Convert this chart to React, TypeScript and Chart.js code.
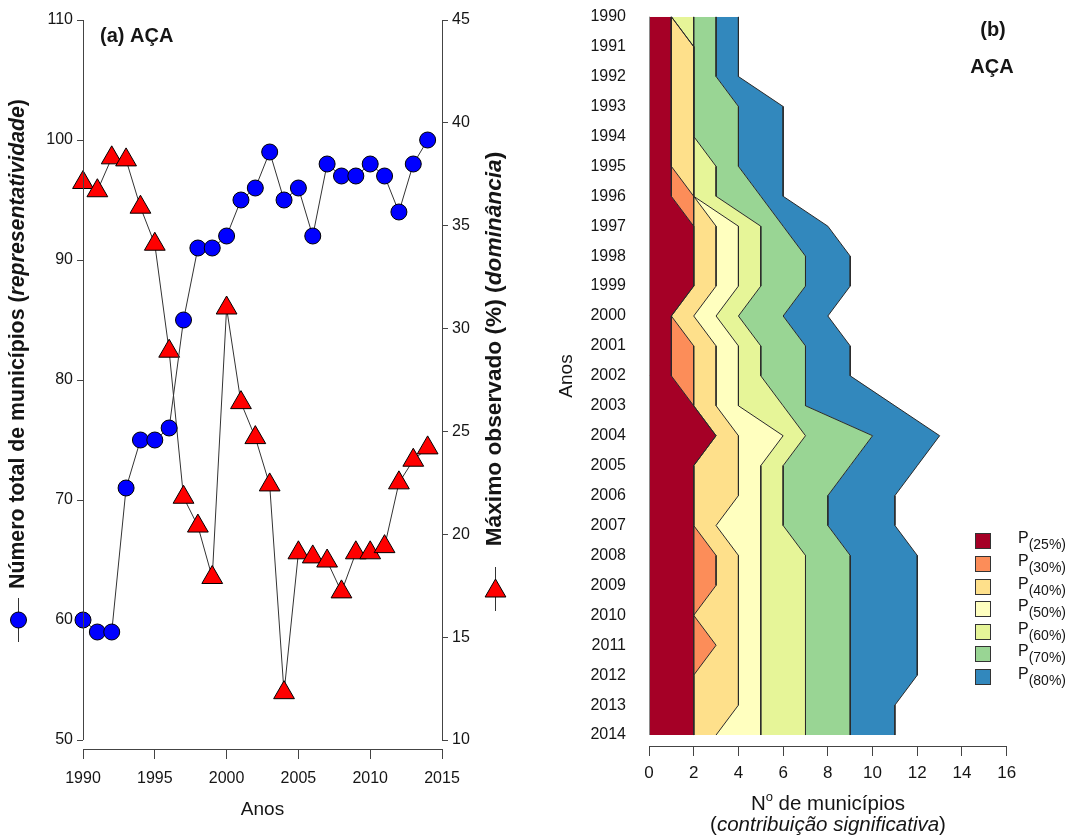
import React, { useEffect, useRef } from 'react';
import { Chart, registerables } from 'chart.js';

Chart.register(...registerables);

const FONT = "'Liberation Sans', Arial, Helvetica, sans-serif";
const TXT = '#151515';
const AXIS = '#444444';
const EDGE = '#2a2a2a';

// ---------- Panel (a) data ----------
const years = [
  1990, 1991, 1992, 1993, 1994, 1995, 1996, 1997, 1998, 1999, 2000, 2001, 2002,
  2003, 2004, 2005, 2006, 2007, 2008, 2009, 2010, 2011, 2012, 2013, 2014,
];
const municipiosTotal = [
  60, 59, 59, 71, 75, 75, 76, 85, 91, 91, 92, 95, 96, 99, 95, 96, 92, 98, 97, 97, 98, 97, 94, 98, 100,
];
const maximoObservado = [
  37.1, 36.7, 38.3, 38.2, 35.9, 34.1, 28.9, 21.8, 20.4, 17.9, 31.0, 26.4, 24.7, 22.4, 12.3, 19.1, 18.9,
  18.7, 17.2, 19.1, 19.1, 19.4, 22.5, 23.6, 24.2,
];
const leftTicks = [50, 60, 70, 80, 90, 100, 110];
const rightTicks = [10, 15, 20, 25, 30, 35, 40, 45];
const yearTicksA = [1990, 1995, 2000, 2005, 2010, 2015];

// ---------- Panel (b) data (municipalities per percentile class) ----------
const p25 = [1, 1, 1, 1, 1, 1, 1, 2, 2, 2, 1, 1, 1, 2, 3, 2, 2, 2, 2, 2, 2, 2, 2, 2, 2];
const p30 = [0, 0, 0, 0, 0, 0, 1, 0, 0, 0, 0, 1, 1, 0, 0, 0, 0, 0, 1, 1, 0, 1, 0, 0, 0];
const p40 = [0, 1, 1, 1, 1, 1, 0, 1, 1, 1, 1, 1, 1, 1, 1, 2, 2, 1, 1, 1, 2, 1, 2, 2, 1];
const p50 = [0, 0, 0, 0, 0, 0, 0, 1, 1, 1, 1, 1, 1, 1, 2, 1, 1, 2, 1, 1, 1, 1, 1, 1, 2];
const p60 = [1, 0, 0, 0, 0, 1, 1, 1, 1, 1, 1, 1, 1, 2, 1, 1, 1, 1, 2, 2, 2, 2, 2, 2, 2];
const p70 = [1, 1, 1, 2, 2, 1, 2, 1, 2, 2, 2, 2, 2, 1, 3, 3, 2, 2, 2, 2, 2, 2, 2, 2, 2];
const p80 = [1, 1, 1, 2, 2, 2, 1, 2, 2, 2, 2, 2, 2, 4, 3, 3, 3, 3, 3, 3, 3, 3, 3, 2, 2];
const classLabels = ['(25%)', '(30%)', '(40%)', '(50%)', '(60%)', '(70%)', '(80%)'];
const classColors = ['#a50026', '#fc8d59', '#fee08b', '#ffffbf', '#e6f598', '#99d594', '#3288bd'];
const classValues = [p25, p30, p40, p50, p60, p70, p80];
const countTicks = [0, 2, 4, 6, 8, 10, 12, 14, 16];

type Part = { text: string; font: string; dy?: number };

function drawRich(ctx: CanvasRenderingContext2D, parts: Part[], cx: number, cy: number, angle: number) {
  ctx.save();
  ctx.translate(cx, cy);
  ctx.rotate(angle);
  let total = 0;
  for (const p of parts) {
    ctx.font = p.font;
    total += ctx.measureText(p.text).width;
  }
  let x = -total / 2;
  ctx.textBaseline = 'middle';
  ctx.textAlign = 'left';
  ctx.fillStyle = TXT;
  for (const p of parts) {
    ctx.font = p.font;
    ctx.fillText(p.text, x, p.dy || 0);
    x += ctx.measureText(p.text).width;
  }
  ctx.restore();
}

const panelAPlugin = {
  id: 'panelADecor',
  afterDraw(chart: any) {
    const ctx: CanvasRenderingContext2D = chart.ctx;
    const { left, right } = chart.chartArea;
    const y = chart.scales.y;
    const y2 = chart.scales.y2;
    ctx.save();
    ctx.strokeStyle = AXIS;
    ctx.lineWidth = 1;
    ctx.beginPath();
    const lx = Math.round(left) + 0.5;
    ctx.moveTo(lx, y.getPixelForValue(110));
    ctx.lineTo(lx, y.getPixelForValue(50));
    const rx = Math.round(right) + 0.5;
    ctx.moveTo(rx, y2.getPixelForValue(45));
    ctx.lineTo(rx, y2.getPixelForValue(10));
    ctx.stroke();

    // panel title
    ctx.fillStyle = TXT;
    ctx.font = `bold 20px ${FONT}`;
    ctx.textBaseline = 'middle';
    ctx.textAlign = 'left';
    ctx.fillText('(a) AÇA', 100, 36);

    // x title
    ctx.font = `19px ${FONT}`;
    ctx.textAlign = 'center';
    ctx.fillText('Anos', (left + right) / 2, 810);

    // left axis title
    drawRich(
      ctx,
      [
        { text: 'Número total de municípios (', font: `bold 21.3px ${FONT}` },
        { text: 'representatividade', font: `italic bold 21.3px ${FONT}` },
        { text: ')', font: `bold 21.3px ${FONT}` },
      ],
      18,
      344,
      -Math.PI / 2
    );
    // right axis title
    drawRich(
      ctx,
      [
        { text: 'Máximo observado (%) (', font: `bold 22.7px ${FONT}` },
        { text: 'dominância', font: `italic bold 22.7px ${FONT}` },
        { text: ')', font: `bold 22.7px ${FONT}` },
      ],
      495,
      349,
      -Math.PI / 2
    );

    // legend symbols
    ctx.strokeStyle = '#333';
    ctx.beginPath();
    ctx.moveTo(18.5, 598);
    ctx.lineTo(18.5, 642);
    ctx.moveTo(495.5, 567);
    ctx.lineTo(495.5, 611);
    ctx.stroke();
    ctx.beginPath();
    ctx.arc(18.5, 620, 8, 0, Math.PI * 2);
    ctx.fillStyle = '#0000ff';
    ctx.fill();
    ctx.strokeStyle = '#000';
    ctx.stroke();
    const r = 12;
    const tx = 495.5;
    const ty = 591;
    ctx.beginPath();
    ctx.moveTo(tx, ty - r);
    ctx.lineTo(tx + r * Math.sin((2 * Math.PI) / 3), ty + r / 2);
    ctx.lineTo(tx - r * Math.sin((2 * Math.PI) / 3), ty + r / 2);
    ctx.closePath();
    ctx.fillStyle = '#ff0000';
    ctx.fill();
    ctx.stroke();
    ctx.restore();
  },
};

const panelBPlugin = {
  id: 'panelBDecor',
  afterDraw(chart: any) {
    const ctx: CanvasRenderingContext2D = chart.ctx;
    const x = chart.scales.x;
    const y = chart.scales.y;
    ctx.save();
    // left edge of the stacked area
    ctx.strokeStyle = '#8a8a8a';
    ctx.lineWidth = 1;
    ctx.beginPath();
    const x0 = Math.round(x.getPixelForValue(0)) + 0.5;
    ctx.moveTo(x0, y.getPixelForValue(1990));
    ctx.lineTo(x0, y.getPixelForValue(2014));
    ctx.stroke();

    ctx.fillStyle = TXT;
    ctx.textAlign = 'center';
    ctx.textBaseline = 'middle';
    ctx.font = `bold 20px ${FONT}`;
    ctx.fillText('(b)', 453, 30);
    ctx.fillText('AÇA', 452, 67);

    // axis titles
    drawRich(ctx, [{ text: 'Anos', font: `19px ${FONT}` }], 27, 376, -Math.PI / 2);
    drawRich(
      ctx,
      [
        { text: 'N', font: `20.5px ${FONT}` },
        { text: 'o', font: `13px ${FONT}`, dy: -7 },
        { text: ' de municípios', font: `20.5px ${FONT}` },
      ],
      288,
      804,
      0
    );
    drawRich(
      ctx,
      [
        { text: '(', font: `20.5px ${FONT}` },
        { text: 'contribuição significativa', font: `italic 20.5px ${FONT}` },
        { text: ')', font: `20.5px ${FONT}` },
      ],
      288,
      825,
      0
    );

    // legend
    const rows = [541, 564, 587, 609, 632, 654, 677];
    for (let i = 0; i < classLabels.length; i++) {
      const cy = rows[i];
      ctx.fillStyle = classColors[i];
      ctx.fillRect(435.5, cy - 7.5, 15, 15);
      ctx.strokeStyle = '#333';
      ctx.lineWidth = 1;
      ctx.strokeRect(435.5, cy - 7.5, 15, 15);
      ctx.fillStyle = TXT;
      ctx.textAlign = 'left';
      ctx.font = `16px ${FONT}`;
      ctx.fillText('P', 478, cy - 2);
      const pw = ctx.measureText('P').width;
      ctx.font = `14px ${FONT}`;
      ctx.fillText(classLabels[i], 478 + pw, cy + 4);
    }
    ctx.restore();
  },
};

export default function App() {
  const aRef = useRef<HTMLCanvasElement>(null);
  const bRef = useRef<HTMLCanvasElement>(null);

  useEffect(() => {
    Chart.defaults.font.family = FONT;
    Chart.defaults.color = TXT;

    const chartA = new Chart(aRef.current as HTMLCanvasElement, {
      type: 'line',
      data: {
        datasets: [
          {
            label: 'Número total de municípios',
            data: years.map((yr, i) => ({ x: yr, y: municipiosTotal[i] })),
            xAxisID: 'x',
            yAxisID: 'y',
            borderColor: '#333',
            borderWidth: 1,
            pointStyle: 'circle',
            pointRadius: 8,
            pointBackgroundColor: '#0000ff',
            pointBorderColor: '#000',
            pointBorderWidth: 1,
            tension: 0,
            clip: false as any,
          },
          {
            label: 'Máximo observado (%)',
            data: years.map((yr, i) => ({ x: yr, y: maximoObservado[i] })),
            xAxisID: 'x',
            yAxisID: 'y2',
            borderColor: '#333',
            borderWidth: 1,
            pointStyle: 'triangle',
            pointRadius: 12,
            pointBackgroundColor: '#ff0000',
            pointBorderColor: '#000',
            pointBorderWidth: 1,
            tension: 0,
            clip: false as any,
          },
        ],
      },
      options: {
        animation: false,
        responsive: false,
        devicePixelRatio: 1,
        layout: { padding: { top: 20, left: 0, right: 0, bottom: 0 } },
        plugins: { legend: { display: false }, tooltip: { enabled: false } },
        scales: {
          x: {
            type: 'linear',
            position: 'bottom',
            min: 1990,
            max: 2015,
            afterBuildTicks: (s: any) => {
              s.ticks = yearTicksA.map((v) => ({ value: v }));
            },
            afterFit: (s: any) => {
              s.height = 87;
            },
            border: { display: true, color: AXIS, width: 1 },
            grid: { display: true, drawOnChartArea: false, drawTicks: true, tickLength: 10, color: AXIS },
            ticks: {
              callback: (v: any) => String(v),
              font: { size: 16 },
              color: TXT,
              padding: 10,
              maxRotation: 0,
              autoSkip: false,
            },
          },
          y: {
            type: 'linear',
            position: 'left',
            min: 50 - 9 / 12,
            max: 110,
            afterBuildTicks: (s: any) => {
              s.ticks = leftTicks.map((v) => ({ value: v }));
            },
            afterFit: (s: any) => {
              s.width = 83;
            },
            border: { display: false },
            grid: { display: true, drawOnChartArea: false, drawTicks: true, tickLength: 6, color: AXIS },
            ticks: { callback: (v: any) => String(v), font: { size: 16 }, color: TXT, padding: 4 },
          },
          y2: {
            type: 'linear',
            position: 'right',
            min: 10 - (9 * 35) / 720,
            max: 45,
            afterBuildTicks: (s: any) => {
              s.ticks = rightTicks.map((v) => ({ value: v }));
            },
            afterFit: (s: any) => {
              s.width = 98;
            },
            border: { display: false },
            grid: { display: true, drawOnChartArea: false, drawTicks: true, tickLength: 6, color: AXIS },
            ticks: { callback: (v: any) => String(v), font: { size: 16 }, color: TXT, padding: 4 },
          },
        },
      },
      plugins: [panelAPlugin],
    } as any);

    const chartB = new Chart(bRef.current as HTMLCanvasElement, {
      type: 'line',
      data: {
        datasets: classValues.map((vals, i) => ({
          label: 'P' + classLabels[i],
          data: years.map((yr, j) => ({ x: vals[j], y: yr })),
          fill: i === 0 ? 'origin' : '-1',
          backgroundColor: classColors[i],
          borderColor: EDGE,
          borderWidth: 1,
          pointRadius: 0,
          tension: 0,
        })),
      },
      options: {
        indexAxis: 'y',
        animation: false,
        responsive: false,
        devicePixelRatio: 1,
        layout: { padding: { top: 16.7, right: 65.3, left: 0, bottom: 0 } },
        plugins: {
          legend: { display: false },
          tooltip: { enabled: false },
          filler: { drawTime: 'beforeDatasetsDraw' },
        },
        scales: {
          x: {
            type: 'linear',
            position: 'bottom',
            stacked: true,
            min: 0,
            max: 16,
            afterBuildTicks: (s: any) => {
              s.ticks = countTicks.map((v) => ({ value: v }));
            },
            afterFit: (s: any) => {
              s.height = 90;
            },
            border: { display: true, color: AXIS, width: 1 },
            grid: { display: true, drawOnChartArea: false, drawTicks: true, tickLength: 10, color: AXIS },
            ticks: {
              callback: (v: any) => String(v),
              font: { size: 17 },
              color: TXT,
              padding: 7,
              maxRotation: 0,
              autoSkip: false,
            },
          },
          y: {
            type: 'linear',
            position: 'left',
            reverse: true,
            min: 1990,
            max: 2014 + 11 / 30,
            afterBuildTicks: (s: any) => {
              s.ticks = years.map((v) => ({ value: v }));
            },
            afterFit: (s: any) => {
              s.width = 109;
              s.paddingTop = 0;
              s.paddingBottom = 0;
            },
            border: { display: false },
            grid: { display: false, drawTicks: false },
            ticks: { callback: (v: any) => String(v), font: { size: 16 }, color: TXT, padding: 23, autoSkip: false },
          },
        },
      },
      plugins: [panelBPlugin],
    } as any);

    return () => {
      chartA.destroy();
      chartB.destroy();
    };
  }, []);

  return (
    <div style={{ position: 'absolute', left: 0, top: 0, width: 1072, height: 836, background: '#fff' }}>
      <canvas
        ref={aRef}
        width={540}
        height={836}
        style={{ position: 'absolute', left: 0, top: 0, width: 540, height: 836 }}
      />
      <canvas
        ref={bRef}
        width={532}
        height={836}
        style={{ position: 'absolute', left: 540, top: 0, width: 532, height: 836 }}
      />
    </div>
  );
}
